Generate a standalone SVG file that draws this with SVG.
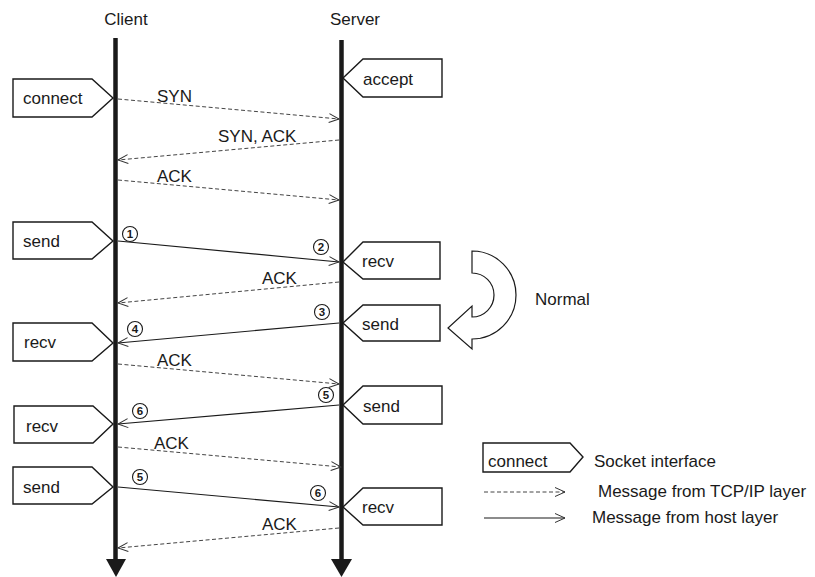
<svg xmlns="http://www.w3.org/2000/svg" width="815" height="577" viewBox="0 0 815 577">
<defs>
<style>
text{font-family:"Liberation Sans",Arial,sans-serif;fill:#1a1a1a}
.t{font-size:17px}
.n{font-size:11.5px;font-weight:bold;text-anchor:middle}
.node{fill:#fff;stroke:#1a1a1a;stroke-width:1.4}
.life{stroke:#1a1a1a;stroke-width:4.5;fill:none}
.dash{stroke:#444;stroke-width:1;stroke-dasharray:4 2.5;fill:none}
.solid{stroke:#1a1a1a;stroke-width:1.2;fill:none}
.num{fill:#fff;stroke:#1a1a1a;stroke-width:1.1}
</style>
<marker id="oa" viewBox="0 0 12 12" refX="11" refY="6" markerWidth="12" markerHeight="12" markerUnits="userSpaceOnUse" orient="auto">
<path d="M1,1.5 L11,6 L1,10.5" fill="none" stroke="#333" stroke-width="1"/>
</marker>
</defs>
<rect width="815" height="577" fill="#fff"/>

<g id="lifelines">
<text class="t" x="126" y="25" text-anchor="middle">Client</text>
<text class="t" x="355" y="25" text-anchor="middle">Server</text>
<line class="life" x1="115.5" y1="38" x2="115.5" y2="562"/>
<line class="life" x1="341.5" y1="40" x2="341.5" y2="562"/>
<polygon points="106,559 126,559 116,577" fill="#1a1a1a"/>
<polygon points="331,559 352,559 341.5,577" fill="#1a1a1a"/>
</g>

<g id="connectors">
<line class="dash" x1="118" y1="99" x2="339" y2="119" marker-end="url(#oa)"/>
<line class="dash" x1="339" y1="140" x2="118" y2="160" marker-end="url(#oa)"/>
<line class="dash" x1="118" y1="180" x2="339" y2="200" marker-end="url(#oa)"/>
<line class="solid" x1="118" y1="241" x2="339" y2="262" marker-end="url(#oa)"/>
<line class="dash" x1="339" y1="282" x2="118" y2="303" marker-end="url(#oa)"/>
<line class="solid" x1="339" y1="323" x2="118" y2="343" marker-end="url(#oa)"/>
<line class="dash" x1="118" y1="364" x2="339" y2="384" marker-end="url(#oa)"/>
<line class="solid" x1="339" y1="405" x2="118" y2="424" marker-end="url(#oa)"/>
<line class="dash" x1="118" y1="447" x2="341" y2="467" marker-end="url(#oa)"/>
<line class="solid" x1="118" y1="487" x2="339" y2="507" marker-end="url(#oa)"/>
<line class="dash" x1="339" y1="528" x2="118" y2="548" marker-end="url(#oa)"/>
<text class="t" x="157" y="102">SYN</text>
<text class="t" x="218" y="142">SYN, ACK</text>
<text class="t" x="157" y="182">ACK</text>
<text class="t" x="262" y="284">ACK</text>
<text class="t" x="157" y="366">ACK</text>
<text class="t" x="154" y="449">ACK</text>
<text class="t" x="262" y="530">ACK</text>
</g>

<g id="numbers">
<circle class="num" cx="130" cy="234" r="7.5"/><text class="n" x="130" y="238">1</text>
<circle class="num" cx="321" cy="247" r="7.5"/><text class="n" x="321" y="251">2</text>
<circle class="num" cx="322" cy="312" r="7.5"/><text class="n" x="322" y="316">3</text>
<circle class="num" cx="135" cy="329" r="7.5"/><text class="n" x="135" y="333">4</text>
<circle class="num" cx="326" cy="395" r="7.5"/><text class="n" x="326" y="399">5</text>
<circle class="num" cx="140" cy="411" r="7.5"/><text class="n" x="140" y="415">6</text>
<circle class="num" cx="140" cy="477" r="7.5"/><text class="n" x="140" y="481">5</text>
<circle class="num" cx="318" cy="493" r="7.5"/><text class="n" x="318" y="497">6</text>
</g>

<g id="client-connect">
<polygon class="node" points="13,79 92,79 113,98 92,117 13,117"/>
<text class="t" x="23" y="104">connect</text>
</g>
<g id="server-accept">
<polygon class="node" points="363,59 442,59 442,97 363,97 343,78"/>
<text class="t" x="363" y="85">accept</text>
</g>
<g id="client-send-1">
<polygon class="node" points="13,222 92,222 113,241 92,259 13,259"/>
<text class="t" x="23" y="247">send</text>
</g>
<g id="server-recv-1">
<polygon class="node" points="363,242 440,242 440,279 363,279 343,262"/>
<text class="t" x="362" y="267">recv</text>
</g>
<g id="server-send-1">
<polygon class="node" points="363,305 440,305 440,341 363,341 343,323"/>
<text class="t" x="362" y="330">send</text>
</g>
<g id="client-recv-1">
<polygon class="node" points="13,323 92,323 113,343 92,361 13,361"/>
<text class="t" x="24" y="348">recv</text>
</g>
<g id="server-send-2">
<polygon class="node" points="363,386 442,386 442,424 363,424 343,405"/>
<text class="t" x="363" y="412">send</text>
</g>
<g id="client-recv-2">
<polygon class="node" points="14,406 93,406 113,424 93,443 14,443"/>
<text class="t" x="26" y="432">recv</text>
</g>
<g id="client-send-2">
<polygon class="node" points="13,467 92,467 113,487 92,504 13,504"/>
<text class="t" x="23" y="493">send</text>
</g>
<g id="server-recv-2">
<polygon class="node" points="363,488 442,488 442,525 363,525 343,507"/>
<text class="t" x="362" y="513">recv</text>
</g>

<g id="normal">
<path d="M472,251 A44,44 0 0 1 472,339 L472,349 L448,328 L472,306 L472,317 A22,22 0 0 0 472,273 Z" fill="#fff" stroke="#1a1a1a" stroke-width="1.2"/>
<text class="t" x="535" y="305">Normal</text>
</g>

<g id="legend">
<polygon class="node" points="483,443 570,443 583,457 570,472 483,472"/>
<text class="t" x="488" y="467">connect</text>
<text class="t" x="594" y="467">Socket interface</text>
<line class="dash" x1="484" y1="492" x2="565" y2="492" marker-end="url(#oa)"/>
<text class="t" x="598" y="497">Message from TCP/IP layer</text>
<line class="solid" x1="484" y1="518" x2="565" y2="518" marker-end="url(#oa)"/>
<text class="t" x="592" y="523">Message from host layer</text>
</g>
</svg>
